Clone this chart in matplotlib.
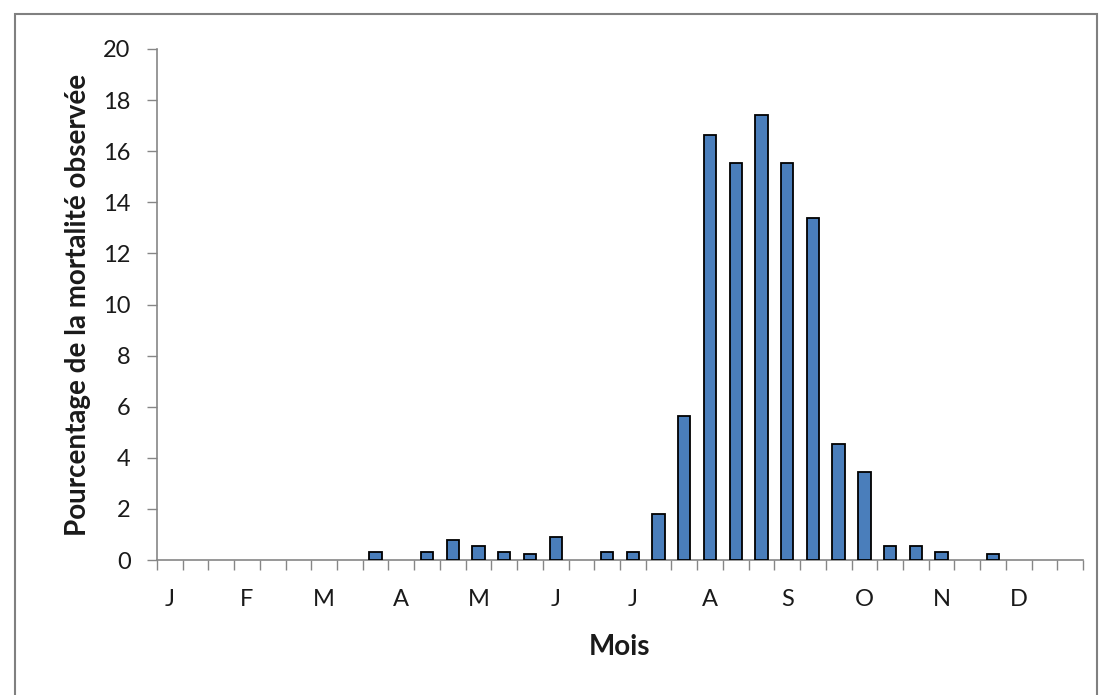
import numpy as np
import matplotlib
matplotlib.use('Agg')
import matplotlib.pyplot as plt
from matplotlib.patches import Rectangle

plt.rcParams['font.family'] = ['Lato', 'DejaVu Sans']

# three 10-day periods per month
months = ['J', 'F', 'M', 'A', 'M', 'J', 'J', 'A', 'S', 'O', 'N', 'D']
mortality = [0, 0, 0, 0, 0, 0, 0, 0,
             0.33, 0, 0.33, 0.78, 0.56, 0.33, 0.22, 0.89,
             0, 0.33, 0.33, 1.8, 5.65, 16.65, 15.55, 17.4,
             15.55, 13.4, 4.55, 3.45, 0.56, 0.56, 0.33, 0,
             0.22, 0, 0, 0]
yticks = [0, 2, 4, 6, 8, 10, 12, 14, 16, 18, 20]

axcol = '#868686'
txtcol = '#1a1a1a'

fig = plt.figure(figsize=(11.03, 6.95), dpi=100)
ax = fig.add_axes([0.1423, 0.1942, 0.9819 - 0.1423, 0.9295 - 0.1942])

x = np.arange(len(mortality))
vals = np.array(mortality)
nz = vals > 0  # empty periods have no bar at all
ax.bar(x[nz], vals[nz], width=0.48, color='#4a7ebb', edgecolor='black',
       linewidth=1.3, zorder=3)

ax.set_xlim(-0.5, len(mortality) - 0.5)
ax.set_ylim(0, 20)
ax.set_yticks(yticks)
ax.set_yticklabels([str(v) for v in yticks], fontsize=17, color=txtcol)

# month labels on first decade of each month, ticks on decade boundaries
ax.set_xticks(np.arange(0, len(mortality), 3))
ax.set_xticklabels(months, fontsize=17, color=txtcol)
ax.set_xticks(np.arange(-0.5, len(mortality), 1), minor=True)
ax.tick_params(axis='x', which='major', length=0, pad=21)
ax.tick_params(axis='x', which='minor', direction='out', length=7,
               width=1, color=axcol)
ax.tick_params(axis='y', direction='out', length=7, width=1,
               color=axcol, pad=12)

for s in ['top', 'right']:
    ax.spines[s].set_visible(False)
for s in ['left', 'bottom']:
    ax.spines[s].set_color(axcol)
    ax.spines[s].set_linewidth(1.2)

ax.set_xlabel('Mois', fontsize=20, fontweight='bold', color=txtcol, labelpad=17)
ax.set_ylabel('Pourcentage de la mortalité observée', fontsize=20,
              fontweight='bold', color=txtcol, labelpad=9)

# outer chart frame
fig.patches.append(Rectangle((15 / 1103, -0.02), (1097 - 15) / 1103,
                             1 - 14 / 695 + 0.02, transform=fig.transFigure,
                             fill=False, edgecolor='#808080', linewidth=1.5))

fig.savefig('out.png', dpi=100)
